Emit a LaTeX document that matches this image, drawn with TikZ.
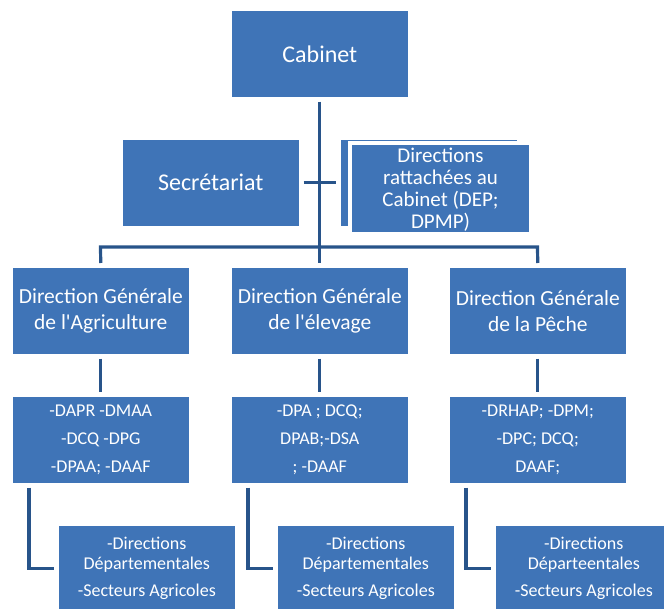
\documentclass[tikz,border=0pt]{standalone}
\usepackage{fontspec}
\setmainfont{Carlito}[Ligatures=TeXOff]
\definecolor{boxblue}{RGB}{63,116,183}
\definecolor{linkblue}{RGB}{40,84,138}
\begin{document}
\begin{tikzpicture}[x=1pt,y=-1pt,
  box/.style={draw=white, line width=0.6pt, fill=boxblue, text=white,
    anchor=north west, minimum width=177pt, minimum height=87pt,
    inner sep=0pt, align=center},
  boxtext/.style={text=white, align=center, inner sep=0pt},
  bigfont/.style={font=\fontsize{24}{28}\selectfont},
  dgfont/.style={font=\fontsize{21.5}{26}\selectfont},
  listfont/.style={font=\fontsize{18}{28}\selectfont},
  subfont/.style={font=\fontsize{18}{20}\selectfont},
  link/.style={draw=linkblue, line width=3.2pt, shorten <=4pt, shorten >=4pt},
  ]
\useasboundingbox (0,0) rectangle (664,609);
\clip (0,0) rectangle (664,609);

% top
\node[box, bigfont] (cab) at (231,10) {Cabinet};
\node[box, bigfont] (sec) at (122,139) {Secrétariat};
\node[box] (dirb) at (340,139) {};
\node[box, line width=4pt, minimum width=181pt, minimum height=91pt] (dir) at (348,141) {};
\node[boxtext, font=\fontsize{21}{22}\selectfont] (dirt) at ([yshift=-1pt]dir.center)
  {Directions\\rattachées au\\Cabinet (DEP;\\DPMP)};

% directions generales
\node[box, dgfont] (dg1) at (12,267) {Direction Générale\\de l'Agriculture};
\node[box, dgfont] (dg2) at (231,267) {Direction Générale\\de l'élevage};
\node[box, dgfont] (dg3) at (449,267) {Direction Générale\\de la Pêche};

% lists
\node[box, listfont] (l1) at (12,396) {-DAPR -DMAA\\-DCQ -DPG\\-DPAA; -DAAF};
\node[box, listfont] (l2) at (231,396) {-DPA ; DCQ;\\DPAB;-DSA\\; -DAAF};
\node[box, listfont] (l3) at (449,396) {-DRHAP; -DPM;\\-DPC; DCQ;\\DAAF;};

% sub boxes
\node[box, subfont] (s1) at (58,525) {-Directions\\Départementales\\[7pt]-Secteurs Agricoles};
\node[box, subfont] (s2) at (277,525) {-Directions\\Départementales\\[7pt]-Secteurs Agricoles};
\node[box, subfont] (s3) at (495,525) {-Directions\\Départeentales\\[7pt]-Secteurs Agricoles};

% connectors
\coordinate (busL) at (100.5,247);
\coordinate (busR) at (537.5,247);
\draw[link] (cab.south) -- (dg2.north);
\draw[link] (dg1.north) -- (busL) -- (busR) -- (dg3.north);
\draw[link] (sec.east) -- (dirb.west);
\draw[link] (dg1.south) -- (l1.north);
\draw[link] (dg2.south) -- (l2.north);
\draw[link] (dg3.south) -- (l3.north);
\draw[link] ([xshift=17pt]l1.south west) |- (s1.west);
\draw[link] ([xshift=17pt]l2.south west) |- (s2.west);
\draw[link] ([xshift=17pt]l3.south west) |- (s3.west);
\end{tikzpicture}
\end{document}
